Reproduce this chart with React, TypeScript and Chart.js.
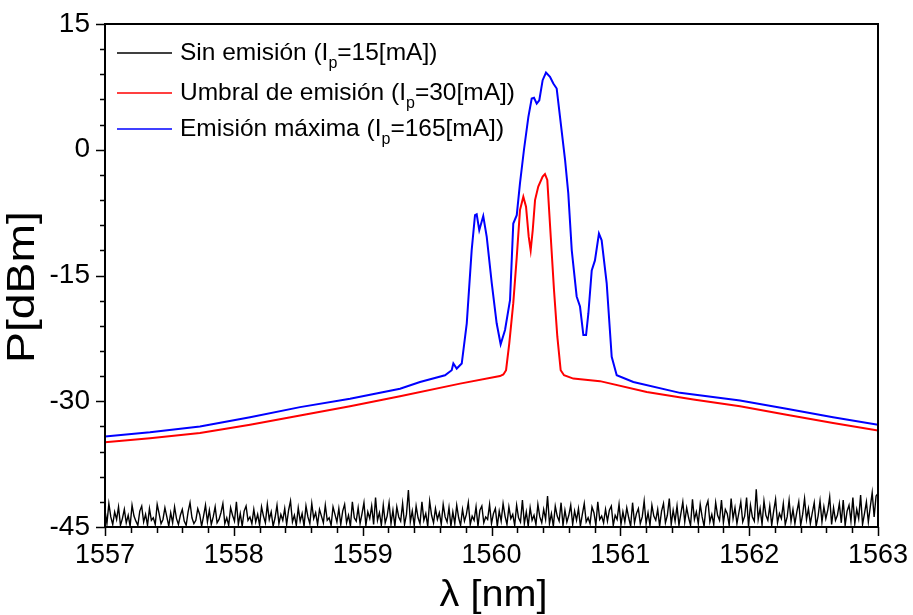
import React, { useEffect, useRef } from "react";
import { Chart, registerables } from "chart.js";

Chart.register(...registerables);

// ---- Data ----
const xTicksMajor = [1557, 1558, 1559, 1560, 1561, 1562, 1563];
const yTicksMajor = [-45, -30, -15, 0, 15];
const xTitle = "λ [nm]";
const yTitle = "P[dBm]";

const legendPre = ["Sin emisión (I", "Umbral de emisión (I", "Emisión máxima (I"];
const legendSub = ["p", "p", "p"];
const legendPost = ["=15[mA])", "=30[mA])", "=165[mA])"];
const seriesColors = ["#000000", "#ff0000", "#0000ff"];

// Black trace (Ip = 15 mA): sampled every 0.015 nm starting at 1557 nm
const noiseStart = 1557;
const noiseStep = 0.015;
const noiseValues = [
  -43.0, -44.6, -42.2, -43.8, -44.7, -43.2, -44.1, -42.6, -44.8, -44.0, -42.9, -44.5, -43.6, -44.9, -42.4, -43.7, -44.3, -44.8, -43.1, -42.5,
  -44.4, -43.5, -44.8, -42.8, -44.2, -43.9, -44.7, -42.3, -43.4, -44.6, -44.1, -42.7, -43.8, -44.9, -43.3, -44.5, -42.6, -44.0, -44.7, -43.6,
  -42.9, -44.3, -44.8, -43.2, -42.1, -43.9, -44.6, -44.2, -42.8, -43.5, -44.9, -43.7, -42.4, -44.4, -43.0, -44.7, -43.8, -42.6, -44.5, -44.1,
  -43.3, -42.2, -44.6, -43.9, -44.8, -42.7, -43.6, -44.3, -42.0, -44.7, -43.4, -44.9, -43.1, -42.5, -44.2, -43.8, -44.6, -42.9, -44.4, -43.5,
  -44.8, -42.6, -43.7, -44.5, -42.3, -44.1, -43.2, -44.9, -43.9, -42.4, -44.6, -43.5, -44.2, -42.8, -44.7, -43.0, -41.9, -44.4, -43.6, -44.8,
  -42.7, -44.3, -43.4, -44.9, -42.5, -43.8, -44.6, -42.2, -44.0, -43.3, -44.7, -42.9, -43.7, -44.5, -42.4, -44.2, -43.9, -44.8, -42.6, -43.5,
  -44.4, -42.8, -44.7, -43.1, -42.3, -44.5, -43.6, -44.9, -42.0, -43.9, -44.3, -42.7, -44.6, -43.4, -42.1, -44.8, -43.2, -44.0, -42.5, -44.7,
  -41.5, -44.2, -43.3, -44.8, -42.4, -44.5, -43.7, -42.1, -44.6, -43.0, -44.9, -42.6, -43.8, -44.3, -42.2, -44.7, -43.5, -40.6, -44.4, -43.1,
  -44.8, -42.5, -43.9, -44.6, -42.0, -44.2, -43.4, -44.9, -41.9, -43.6, -44.5, -42.8, -44.1, -43.3, -44.7, -42.3, -43.8, -44.4, -42.7, -44.9,
  -43.2, -44.6, -42.4, -43.9, -44.8, -42.9, -44.3, -43.5, -42.1, -44.7, -43.7, -44.2, -42.6, -44.9, -43.0, -42.5, -44.5, -43.8, -44.1, -42.3,
  -44.6, -43.4, -42.8, -44.9, -43.1, -44.3, -42.2, -43.7, -44.7, -42.6, -44.0, -43.5, -44.8, -42.4, -43.9, -44.4, -41.8, -44.6, -43.2, -44.9,
  -42.7, -44.2, -43.6, -44.7, -42.3, -43.8, -44.5, -42.9, -44.1, -41.3, -44.6, -43.4, -44.9, -42.5, -43.7, -44.3, -42.1, -44.8, -43.0, -44.4,
  -43.6, -42.4, -44.7, -43.1, -44.2, -42.8, -44.9, -43.5, -42.2, -44.4, -43.9, -44.6, -42.6, -43.3, -44.8, -42.0, -44.1, -43.7, -44.5, -42.9,
  -44.3, -43.0, -42.5, -44.8, -43.6, -44.1, -42.3, -44.7, -43.2, -44.4, -42.7, -43.9, -44.9, -42.1, -44.5, -43.4, -42.8, -44.6, -43.8, -41.9,
  -44.6, -43.3, -44.8, -42.4, -43.7, -44.2, -42.9, -44.9, -43.1, -42.2, -44.5, -43.6, -41.6, -44.7, -43.0, -44.3, -42.5, -44.8, -43.4, -42.0,
  -44.4, -42.7, -43.9, -44.8, -41.7, -44.1, -43.2, -44.6, -42.3, -43.8, -44.9, -42.6, -41.9, -44.4, -43.5, -44.7, -42.1, -43.6, -44.2, -41.8,
  -44.5, -42.9, -43.4, -44.8, -41.6, -44.0, -42.7, -44.6, -43.3, -42.0, -44.4, -43.7, -41.5, -44.9, -42.4, -43.8, -44.3, -40.5, -44.1, -42.8,
  -44.7, -41.9, -43.6, -44.2, -42.5, -44.8, -43.1, -41.7, -44.5, -43.4, -44.0, -42.2, -44.7, -43.8, -41.8, -44.3, -42.9, -44.6, -43.2, -42.0,
  -44.8, -43.5, -41.6, -44.1, -42.8, -44.6, -43.3, -42.1, -44.9, -43.7, -41.9, -44.4, -42.6, -44.0, -43.0, -41.4, -44.7, -42.7, -44.2, -43.6,
  -42.2, -44.5, -41.8, -44.8, -43.1, -42.4, -44.3, -41.5, -44.6, -42.9, -44.0, -41.2, -44.7, -43.4, -42.0, -44.4, -42.6, -40.9, -43.8, -41.3,
  -41.0,
];

// Red trace (Ip = 30 mA)
const redX = [
  1557.0, 1557.349, 1557.737, 1558.126, 1558.514, 1558.902, 1559.29, 1559.756, 1560.066, 1560.092, 1560.113, 1560.138,
  1560.169, 1560.196, 1560.221, 1560.247, 1560.268, 1560.289, 1560.304, 1560.32, 1560.338, 1560.363, 1560.397, 1560.415,
  1560.433, 1560.46, 1560.485, 1560.511, 1560.537, 1560.563, 1560.635, 1560.842, 1561.205, 1561.567, 1561.929, 1562.29,
  1562.651, 1563.0,
];
const redY = [
  -34.9, -34.4, -33.8, -32.8, -31.7, -30.6, -29.4, -27.9, -27.0, -26.8, -26.3, -23.1,
  -18.3, -12.8, -7.2, -5.6, -6.8, -10.4, -12.0, -9.6, -6.0, -4.4, -3.2, -2.9,
  -3.6, -10.4, -16.7, -22.3, -26.3, -26.9, -27.3, -27.6, -28.9, -29.8, -30.6, -31.6,
  -32.6, -33.5,
];

// Blue trace (Ip = 165 mA)
const blueX = [
  1557.0, 1557.349, 1557.737, 1558.126, 1558.514, 1558.902, 1559.29, 1559.445, 1559.639, 1559.691, 1559.704, 1559.73,
  1559.769, 1559.808, 1559.846, 1559.872, 1559.885, 1559.905, 1559.936, 1559.963, 1560.002, 1560.04, 1560.071, 1560.105,
  1560.144, 1560.169, 1560.196, 1560.221, 1560.252, 1560.286, 1560.312, 1560.33, 1560.351, 1560.371, 1560.397, 1560.423,
  1560.454, 1560.48, 1560.506, 1560.532, 1560.571, 1560.596, 1560.623, 1560.661, 1560.687, 1560.713, 1560.734, 1560.752,
  1560.778, 1560.803, 1560.834, 1560.855, 1560.894, 1560.933, 1560.972, 1561.101, 1561.463, 1561.929, 1562.29, 1562.651,
  1563.0,
];
const blueY = [
  -34.2, -33.7, -33.0, -31.9, -30.7, -29.7, -28.5, -27.7, -26.9, -26.3, -25.5, -26.1,
  -25.5, -20.7, -12.0, -7.8, -7.7, -9.6, -7.9, -10.4, -15.9, -20.7, -23.2, -21.5,
  -17.9, -8.8, -7.8, -4.0, 0.0, 3.9, 6.1, 6.2, 5.5, 5.9, 8.3, 9.2,
  8.7, 7.9, 7.3, 3.9, -1.2, -5.2, -12.0, -17.5, -18.7, -22.1, -22.1, -19.5,
  -14.4, -13.2, -10.0, -10.8, -15.9, -24.7, -26.9, -27.7, -29.0, -29.9, -30.9, -31.9,
  -32.8,
];

const FONT = "'Liberation Sans', Arial, sans-serif";

const framePlugin = {
  id: "frameAndLegend",
  afterDraw(chart: any) {
    const { ctx, chartArea: a } = chart;
    const xs = chart.scales.x;
    const ys = chart.scales.y;
    ctx.save();
    ctx.strokeStyle = "#000";
    ctx.lineWidth = 2;
    ctx.strokeRect(a.left, a.top, a.right - a.left, a.bottom - a.top);
    ctx.beginPath();
    const yMin = ys.min, yMax = ys.max;
    for (let v = yMin; v <= yMax + 1e-6; v += 3) {
      const py = Math.round(ys.getPixelForValue(v)) + 0.5;
      const major = yTicksMajor.includes(Math.round(v));
      ctx.moveTo(a.left, py);
      ctx.lineTo(a.left - (major ? 9 : 5), py);
    }
    const steps = Math.round((xs.max - xs.min) / 0.2);
    for (let i = 0; i <= steps; i++) {
      const v = xs.min + i * 0.2;
      const px = Math.round(xs.getPixelForValue(v)) + 0.5;
      const major = i % 5 === 0;
      ctx.moveTo(px, a.bottom);
      ctx.lineTo(px, a.bottom + (major ? 9 : 6));
    }
    ctx.lineWidth = 1.5;
    ctx.stroke();

    // axis titles
    ctx.fillStyle = "#000";
    ctx.textAlign = "center";
    ctx.textBaseline = "middle";
    ctx.font = `36px ${FONT}`;
    ctx.save();
    ctx.translate((a.left + a.right) / 2 + 2, 596);
    ctx.scale(1.1, 1);
    ctx.fillText(xTitle, 0, 0);
    ctx.restore();
    ctx.save();
    ctx.font = `38px ${FONT}`;
    ctx.translate(24, 287);
    ctx.rotate(-Math.PI / 2);
    ctx.scale(1.22, 1);
    ctx.fillText(yTitle, 0, 0);
    ctx.restore();

    // legend
    const rows = [53, 93, 129];
    for (let i = 0; i < legendPre.length; i++) {
      const ry = rows[i];
      ctx.beginPath();
      ctx.strokeStyle = seriesColors[i];
      ctx.lineWidth = 1.6;
      ctx.moveTo(a.left + 12, ry);
      ctx.lineTo(a.left + 67, ry);
      ctx.stroke();
      ctx.fillStyle = "#000";
      ctx.textBaseline = "middle";
      ctx.textAlign = "left";
      ctx.font = `24.5px ${FONT}`;
      let tx = a.left + 75;
      ctx.fillText(legendPre[i], tx, ry);
      tx += ctx.measureText(legendPre[i]).width;
      ctx.font = `16px ${FONT}`;
      ctx.fillText(legendSub[i], tx, ry + 11);
      tx += ctx.measureText(legendSub[i]).width;
      ctx.font = `24.5px ${FONT}`;
      ctx.fillText(legendPost[i], tx, ry);
    }
    ctx.restore();
  },
};

export default function App() {
  const canvasRef = useRef<HTMLCanvasElement | null>(null);

  useEffect(() => {
    if (!canvasRef.current) return;
    const noiseData = noiseValues.map((v, i) => ({ x: noiseStart + i * noiseStep, y: v }));
    const redData = redX.map((x, i) => ({ x, y: redY[i] }));
    const blueData = blueX.map((x, i) => ({ x, y: blueY[i] }));

    const chart = new Chart(canvasRef.current, {
      type: "line",
      data: {
        datasets: [
          { label: "Sin emisión", data: noiseData, borderColor: seriesColors[0], borderWidth: 1.4, pointRadius: 0, tension: 0, order: 3 },
          { label: "Umbral de emisión", data: redData, borderColor: seriesColors[1], borderWidth: 2, pointRadius: 0, tension: 0, order: 2 },
          { label: "Emisión máxima", data: blueData, borderColor: seriesColors[2], borderWidth: 2, pointRadius: 0, tension: 0, order: 1 },
        ],
      },
      options: {
        animation: false,
        responsive: true,
        maintainAspectRatio: false,
        layout: { padding: { left: 0, top: 24, right: 35, bottom: 0 } },
        plugins: { legend: { display: false }, tooltip: { enabled: false } },
        scales: {
          x: {
            type: "linear",
            min: xTicksMajor[0],
            max: xTicksMajor[xTicksMajor.length - 1],
            grid: { display: false, drawTicks: false },
            border: { display: false },
            afterBuildTicks: (s: any) => {
              s.ticks = xTicksMajor.map((v) => ({ value: v }));
            },
            ticks: {
              maxRotation: 0,
              autoSkip: false,
              padding: 12,
              color: "#000",
              font: { size: 27, family: FONT },
              callback: (v: any) => String(v),
            },
            afterFit: (s: any) => {
              s.height = 88;
              s.paddingLeft = 0;
              s.paddingRight = 0;
            },
          },
          y: {
            type: "linear",
            min: yTicksMajor[0],
            max: yTicksMajor[yTicksMajor.length - 1],
            grid: { display: false, drawTicks: false },
            border: { display: false },
            afterBuildTicks: (s: any) => {
              s.ticks = yTicksMajor.map((v) => ({ value: v }));
            },
            ticks: {
              autoSkip: false,
              padding: 15,
              color: "#000",
              font: { size: 28, family: FONT },
              callback: (v: any) => String(v),
            },
            afterFit: (s: any) => {
              s.width = 105;
              s.paddingTop = 0;
              s.paddingBottom = 0;
            },
          },
        },
      },
      plugins: [framePlugin],
    });
    return () => chart.destroy();
  }, []);

  return (
    <div style={{ position: "absolute", left: 0, top: 0, width: 913, height: 615, background: "#fff" }}>
      <canvas ref={canvasRef} />
    </div>
  );
}
